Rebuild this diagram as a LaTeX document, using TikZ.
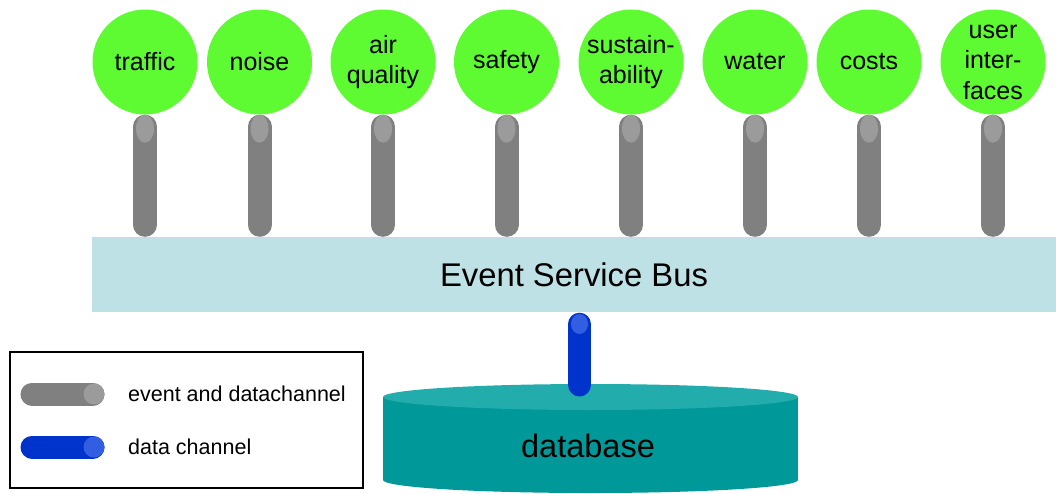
\documentclass[tikz,border=0pt]{standalone}
\usepackage{fontspec}
\setmainfont{Liberation Sans}
\definecolor{topicgreen}{RGB}{94,250,50}
\definecolor{busblue}{RGB}{189,225,228}
\definecolor{pillargrey}{RGB}{128,128,128}
\definecolor{capgrey}{RGB}{155,155,155}
\definecolor{chanblue}{RGB}{0,51,204}
\definecolor{capblue}{RGB}{50,95,225}
\definecolor{dbbody}{RGB}{0,152,152}
\definecolor{dbtop}{RGB}{34,172,172}
\tikzset{
  topic/.style={circle, fill=topicgreen, minimum size=105pt, inner sep=0pt, align=center,
    font=\fontsize{25}{30.5}\selectfont},
  pillar/.style={line width=24pt, line cap=round, draw=pillargrey},
  bluepillar/.style={line width=23pt, line cap=round, draw=chanblue},
  legendtext/.style={anchor=west, font=\fontsize{21.5}{25}\selectfont, inner sep=0pt},
}
\begin{document}
\begin{tikzpicture}[x=1pt, y=-1pt]
\useasboundingbox (0,0) rectangle (1056,493);
% bus
\node[fill=busblue, minimum width=964pt, minimum height=75pt, inner sep=0pt,
  font=\fontsize{32.8}{38}\selectfont] (bus) at (574,274.5) {Event Service Bus};
% topics
\node[topic] (t1) at (145,62) {traffic};
\node[topic] (t2) at (259.5,62) {noise};
\node[topic] (t3) at (383,62) {air\\quality};
\node[topic] (t4) at (506.5,62) {safety};
\node[topic] (t5) at (631,62) {sustain-\\ability};
\node[topic] (t6) at (755,62) {water};
\node[topic] (t7) at (869,62) {costs};
\node[topic] (t8) at (993,62) {user\\inter-\\faces};
\foreach \t in {t1,t2,t3,t4,t5,t6,t7,t8}{
  \draw[pillar] ([yshift=-12pt]\t.south) -- ([yshift=12pt]\t.south |- bus.north);
  \fill[capgrey] ([yshift=-14pt]\t.south) ellipse [x radius=9pt, y radius=14pt];
}
% database
\fill[dbbody] (383,397) rectangle (798,480);
\fill[dbbody] (590.5,480) ellipse [x radius=207.5pt, y radius=13pt];
\fill[dbtop] (590.5,397) ellipse [x radius=207.5pt, y radius=13pt];
\node[font=\fontsize{32.5}{38}\selectfont, inner sep=0pt] (db) at (588,446) {database};
\coordinate (dbtopc) at (579.5,397);
\draw[bluepillar] ([yshift=-12pt]bus.south -| dbtopc) -- ([yshift=12pt]dbtopc);
\fill[capblue] (579.5,324) ellipse [x radius=8.5pt, y radius=10pt];
% legend
\node[draw=black, line width=1.5pt, minimum width=353pt, minimum height=136pt, inner sep=0pt] (legend) at (186.5,420) {};
\draw[pillar, line width=23pt] (32,394) -- (93,394);
\fill[capgrey] (94,394) circle[radius=10.5pt];
\draw[bluepillar] (32,447) -- (93,447);
\fill[capblue] (94,447) circle[radius=10.5pt];
\node[legendtext] (l1) at (128,394) {event and datachannel};
\node[legendtext] (l2) at (128,447) {data channel};
\end{tikzpicture}
\end{document}
